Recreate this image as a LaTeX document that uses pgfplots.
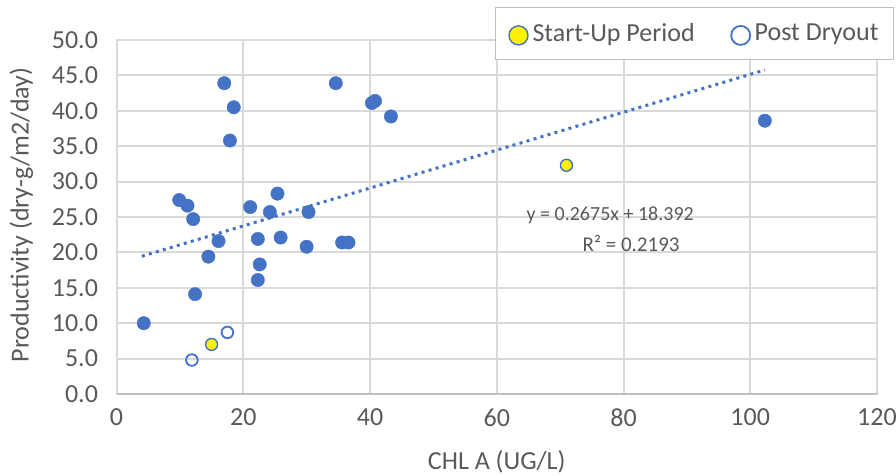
\documentclass[border=0pt]{standalone}
\usepackage{fontspec}
\setmainfont{Carlito}
\usepackage{pgfplots}
\pgfplotsset{compat=1.18}
\definecolor{ptblue}{HTML}{4472C4}
\definecolor{txtgray}{HTML}{595959}
\definecolor{gridgray}{HTML}{D9D9D9}
\definecolor{axgray}{HTML}{BFBFBF}
\begin{document}
\begin{tikzpicture}[x=1pt,y=1pt]
\path[use as bounding box] (0,0) rectangle (896,476);
\begin{axis}[
  at={(116.5pt,82pt)}, anchor=south west,
  scale only axis, width=760.5pt, height=354pt,
  xmin=0, xmax=120, ymin=0, ymax=50,
  xtick={0,20,...,120}, ytick={0,5,...,50},
  grid=major, major grid style={gridgray, line width=2pt},
  axis line style={gridgray, line width=2pt},
  tick style={draw=none},
  /pgf/number format/assume math mode=true,
  ticklabel style={font=\fontsize{26}{31}\selectfont, text=txtgray},
  yticklabel style={/pgf/number format/.cd, fixed, fixed zerofill, precision=1},
  yticklabel shift=15pt,
  xticklabel shift=11pt,
  xlabel={CHL A (UG/L)},
  ylabel={Productivity (dry-g/m2/day)},
  label style={font=\fontsize{26}{31}\selectfont, text=txtgray},
  xlabel style={at={(axis description cs:0.5,-0.192)}, anchor=center},
  ylabel style={at={(axis description cs:-0.125,0.506)}, anchor=center},
  legend columns=2,
  legend style={at={(1.0225,1.0932)}, anchor=north east, draw=axgray, line width=1.2pt,
    fill=white, font=\fontsize{26}{31}\selectfont, text=txtgray,
    inner xsep=13pt, inner ysep=14pt,
    nodes={inner sep=2pt},
    /tikz/every odd column/.append style={column sep=2pt},
    /tikz/every even column/.append style={column sep=34pt}},
  legend image code/.code={%
    \path[draw=none, fill=none] (0pt,-9pt) rectangle (20pt,9pt);
    \draw[#1, mark size=9.5pt] plot coordinates {(10pt,-2pt)};},
  legend cell align=left,
  clip=false,
]
\addplot[only marks, mark=*, mark size=6.7pt, draw=ptblue, fill=ptblue, forget plot]
  coordinates {
  (4.3,10.0) (9.9,27.4) (11.2,26.6) (12.1,24.7) (21.1,26.4) (25.4,28.3)
  (24.2,25.7) (30.3,25.7) (16.1,21.6) (22.3,21.9) (25.9,22.1) (30.0,20.8)
  (35.6,21.4) (36.6,21.4) (14.5,19.4) (22.6,18.3) (22.3,16.1) (12.4,14.1)
  (17.0,43.9) (34.6,43.9) (18.5,40.5) (17.9,35.8) (40.3,41.1) (40.8,41.4)
  (43.3,39.2) (102.3,38.6)
  };
\addplot[ptblue, line width=3pt, forget plot,
  dash pattern=on 3pt off 4.3pt]
  coordinates {(4.0,19.46) (102.3,45.76)};
\addplot[only marks, mark=*, mark size=6pt, draw=ptblue, fill=yellow, line width=1.4pt]
  coordinates {(15.0,7.0) (71.0,32.3)};
\addlegendentry{Start-Up Period}
\addplot[only marks, mark=o, mark size=5.8pt, draw=ptblue, line width=1.8pt]
  coordinates {(17.5,8.7) (11.9,4.8)};
\addlegendentry{Post Dryout}
\draw[axgray, line width=2pt] (rel axis cs:0,0) -- (rel axis cs:1,0);
\node[anchor=center, text=txtgray, font=\fontsize{20}{24}\selectfont] at (axis cs:77.9,25.3) {y = 0.2675x + 18.392};
\node[anchor=center, text=txtgray, font=\fontsize{21}{25}\selectfont] at (axis cs:81.2,21.3) {R² = 0.2193};
\end{axis}
\end{tikzpicture}
\end{document}
